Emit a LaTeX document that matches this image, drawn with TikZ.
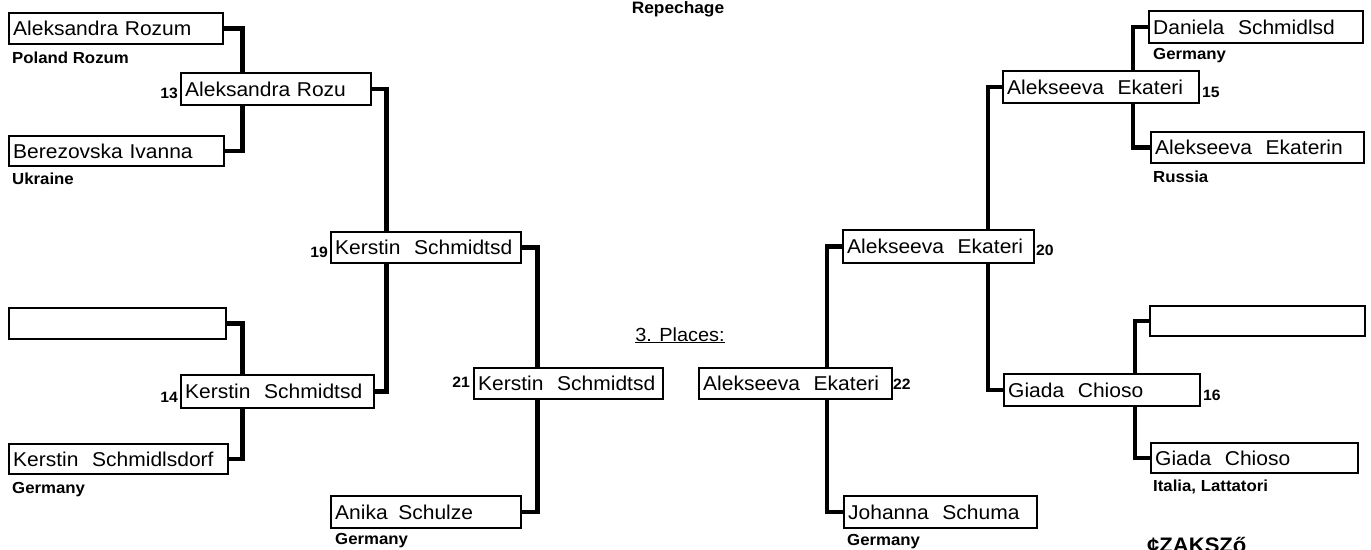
\documentclass[tikz,border=0pt]{standalone}
\usepackage{fontspec}
\setmainfont{Liberation Sans}[FakeStretch=1.05]
\usetikzlibrary{backgrounds}
\newcommand{\wgap}{\hspace{7pt}}
\tikzset{
  pbox/.style={draw, line width=2.4pt, fill=white, inner xsep=4pt, inner ysep=0pt,
    align=left, anchor=north west, font=\fontsize{20}{22}\selectfont},
  conn/.style={line width=4.5pt},
  country/.style={anchor=west, inner sep=0pt, font=\fontsize{16}{18}\selectfont\bfseries},
  num/.style={inner sep=0pt, font=\fontsize{15}{16}\selectfont\bfseries},
  title/.style={inner sep=0pt, font=\fontsize{16.5}{18}\selectfont\bfseries}
}
\begin{document}
\begin{tikzpicture}[x=1pt,y=-1pt]
\useasboundingbox (0,0) rectangle (1371,549);
% left half
\node[pbox, text width=206pt, minimum height=31pt] (b1) at (8,12) {Aleksandra Rozum};
\node[pbox, text width=207pt, minimum height=30pt] (b2) at (8,135) {Berezovska Ivanna};
\node[pbox, text width=209pt, minimum height=31pt] (b3) at (8,307) {};
\node[pbox, text width=211pt, minimum height=30pt] (b4) at (8,443) {Kerstin \wgap Schmidlsdorf};
\node[pbox, text width=182pt, minimum height=32pt] (r13) at (180,72) {Aleksandra Rozu};
\node[pbox, text width=185pt, minimum height=33pt] (r14) at (180,374) {Kerstin \wgap Schmidtsd};
\node[pbox, text width=182pt, minimum height=31pt] (r19) at (330,231) {Kerstin \wgap Schmidtsd};
\node[pbox, text width=181pt, minimum height=31pt] (r21) at (473,367) {Kerstin \wgap Schmidtsd};
\node[pbox, text width=182pt, minimum height=32pt] (anika) at (330,495) {Anika \hspace{4pt}Schulze};
% right half
\node[pbox, text width=206pt, minimum height=32pt] (dan) at (1148,10) {Daniela \wgap Schmidlsd};
\node[pbox, text width=205pt, minimum height=31pt] (ae) at (1150,131) {Alekseeva \wgap Ekaterin};
\node[pbox, text width=207pt, minimum height=30pt] (er) at (1149,305) {};
\node[pbox, text width=199pt, minimum height=30pt] (gc) at (1150,442) {Giada \wgap Chioso};
\node[pbox, text width=188pt, minimum height=32pt] (r15) at (1002,70) {Alekseeva \wgap Ekateri};
\node[pbox, text width=188pt, minimum height=32pt] (r16) at (1003,373) {Giada \wgap Chioso};
\node[pbox, text width=183pt, minimum height=33pt] (r20) at (842,229) {Alekseeva \wgap Ekateri};
\node[pbox, text width=185pt, minimum height=31pt] (r22) at (698,367) {Alekseeva \wgap Ekateri};
\node[pbox, text width=185pt, minimum height=32pt] (joh) at (843,495) {Johanna \wgap Schuma};
% connectors
\begin{scope}[on background layer]
\draw[conn] (b1.east) -- ++(18,0) |- (b2.east);
\draw[conn] (b3.east) -- ++(15,0) |- (b4.east);
\draw[conn] (r13.east) -- ++(14,0) |- (r14.east);
\draw[conn] (r19.east) -- ++(15,0) |- (anika.east);
\draw[conn] (dan.west) -- ++(-15,0) |- (ae.west);
\draw[conn] (er.west) -- ++(-14,0) |- (gc.west);
\draw[conn] (r15.west) -- ++(-14,0) |- (r16.west);
\draw[conn] (r20.west) -- ++(-15,0) |- (joh.west);
\end{scope}
% match numbers
\node[num, anchor=east] (n13) at (178,93) {13};
\node[num, anchor=east] (n14) at (178,397) {14};
\node[num, anchor=east] (n19) at (328,252) {19};
\node[num, anchor=east] (n21) at (470,382) {21};
\node[num, anchor=west] (n15) at (1202,92) {15};
\node[num, anchor=west] (n20) at (1036,250) {20};
\node[num, anchor=west] (n22) at (893,384) {22};
\node[num, anchor=west] (n16) at (1203,395) {16};
% countries
\node[country] (c1) at (12,58) {Poland Rozum};
\node[country] (c2) at (12,179) {Ukraine};
\node[country] (c4) at (12,490) {Germany};
\node[country] (c5) at (335,541) {Germany};
\node[country] (c6) at (1153,56) {Germany};
\node[country] (c7) at (1153,177) {Russia};
\node[country] (c8) at (847,542) {Germany};
\node[country] (c9) at (1153,487) {Italia, Lattatori};
% titles
\node[title, anchor=base] (rep) at (678,13) {Repechage};
\node[inner sep=0pt, anchor=base, font=\fontsize{19}{20}\selectfont] (pl) at (680,341) {\underline{3. Places:}};
\node[inner sep=0pt, anchor=base west, font=\fontsize{21}{22}\selectfont\bfseries] (sz) at (1147,552) {¢ZAKSZő};
\end{tikzpicture}
\end{document}
